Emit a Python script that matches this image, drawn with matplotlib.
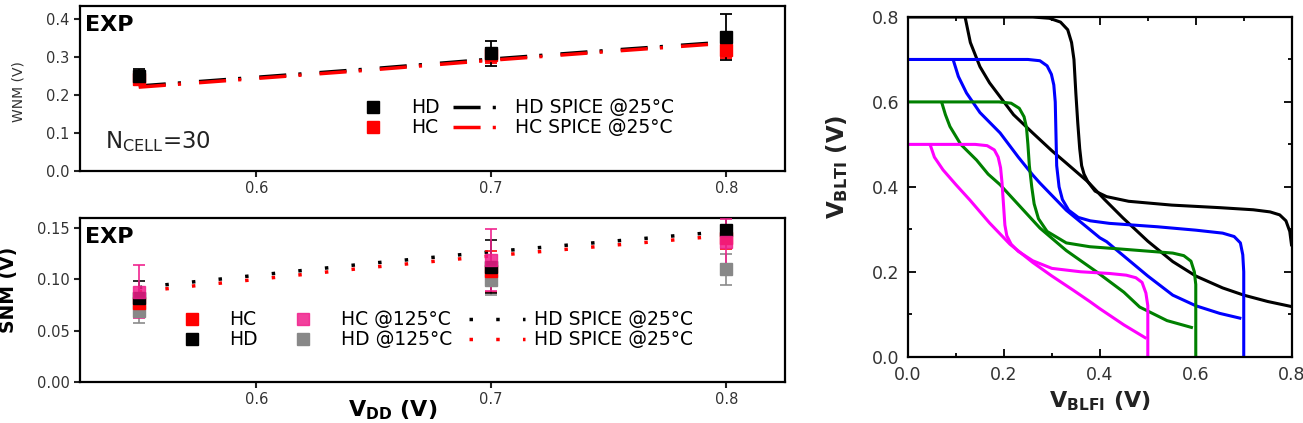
import matplotlib
matplotlib.use("Agg")
import matplotlib.pyplot as plt
from matplotlib.ticker import MultipleLocator

plt.rcParams['font.family'] = ['DejaVu Sans']
plt.rcParams['mathtext.default'] = 'regular'

# ---------------- data ----------------
vdd_exp = [0.55, 0.70, 0.80]
# WNM experiment
wnm_hd = [0.250, 0.310, 0.353]
wnm_hd_err = [0.020, 0.033, 0.060]
wnm_hc = [0.242, 0.305, 0.318]
wnm_hc_err = [0.015, 0.020, 0.020]
# WNM SPICE
vdd_spice_wnm = [0.55, 0.60, 0.65, 0.70, 0.75, 0.80]
wnm_spice_hd = [0.224, 0.247, 0.270, 0.295, 0.318, 0.340]
wnm_spice_hc = [0.221, 0.244, 0.267, 0.292, 0.315, 0.337]

# SNM experiment
snm_hc = [0.077, 0.108, 0.140]
snm_hc_err = [0.010, 0.020, 0.010]
snm_hd = [0.082, 0.1125, 0.148]
snm_hd_err = [0.016, 0.026, 0.012]
snm_hc125 = [0.088, 0.119, 0.137]
snm_hc125_err = [0.026, 0.030, 0.022]
snm_hd125 = [0.069, 0.0995, 0.110]
snm_hd125_err = [0.012, 0.015, 0.015]
# SNM SPICE
vdd_spice_snm = [0.55, 0.60, 0.65, 0.70, 0.75, 0.79]
snm_spice_black = [0.092, 0.104, 0.116, 0.127, 0.137, 0.145]
snm_spice_red = [0.088, 0.100, 0.112, 0.123, 0.133, 0.141]

# Butterfly curves (VBLFI, VBLTI)
bf_08_a_x = [0, 0.26, 0.295, 0.318, 0.333, 0.341, 0.346, 0.35, 0.354, 0.358, 0.362, 0.367, 0.375, 0.39, 0.414, 0.46, 0.55, 0.65, 0.72, 0.755, 0.775, 0.788, 0.796, 0.8]
bf_08_a_y = [0.8, 0.8, 0.797, 0.788, 0.77, 0.74, 0.70, 0.62, 0.55, 0.49, 0.45, 0.43, 0.412, 0.39, 0.377, 0.366, 0.357, 0.351, 0.346, 0.341, 0.334, 0.32, 0.295, 0.26]
bf_08_b_x = [0.119, 0.13, 0.15, 0.17, 0.192, 0.22, 0.26, 0.3, 0.33, 0.375, 0.41, 0.448, 0.5, 0.552, 0.6, 0.656, 0.7, 0.75, 0.8]
bf_08_b_y = [0.8, 0.74, 0.683, 0.645, 0.612, 0.57, 0.527, 0.485, 0.456, 0.412, 0.37, 0.327, 0.272, 0.224, 0.19, 0.162, 0.145, 0.13, 0.118]

bf_07_a_x = [0, 0.25, 0.275, 0.29, 0.299, 0.304, 0.307, 0.31, 0.315, 0.322, 0.335, 0.355, 0.38, 0.42, 0.52, 0.6, 0.656, 0.68, 0.693, 0.698, 0.7, 0.7]
bf_07_a_y = [0.7, 0.7, 0.697, 0.685, 0.665, 0.64, 0.6, 0.45, 0.40, 0.37, 0.345, 0.328, 0.32, 0.314, 0.306, 0.298, 0.291, 0.283, 0.268, 0.24, 0.2, 0.0]
bf_07_b_x = [0.094, 0.105, 0.122, 0.15, 0.192, 0.23, 0.26, 0.275, 0.33, 0.4, 0.414, 0.5, 0.552, 0.6, 0.65, 0.695]
bf_07_b_y = [0.7, 0.66, 0.621, 0.575, 0.527, 0.47, 0.428, 0.409, 0.345, 0.28, 0.271, 0.19, 0.145, 0.12, 0.102, 0.09]

bf_06_a_x = [0, 0.19, 0.215, 0.232, 0.242, 0.247, 0.25, 0.253, 0.258, 0.263, 0.272, 0.29, 0.33, 0.379, 0.45, 0.552, 0.575, 0.59, 0.597, 0.6, 0.6]
bf_06_a_y = [0.6, 0.6, 0.597, 0.585, 0.565, 0.54, 0.5, 0.45, 0.4, 0.36, 0.325, 0.295, 0.268, 0.259, 0.253, 0.244, 0.238, 0.225, 0.2, 0.17, 0.0]
bf_06_b_x = [0.07, 0.078, 0.0875, 0.11, 0.143, 0.167, 0.192, 0.275, 0.33, 0.393, 0.45, 0.483, 0.54, 0.594]
bf_06_b_y = [0.6, 0.57, 0.542, 0.5, 0.463, 0.43, 0.405, 0.303, 0.25, 0.2, 0.152, 0.117, 0.085, 0.068]

bf_05_a_x = [0, 0.14, 0.165, 0.18, 0.188, 0.193, 0.196, 0.199, 0.202, 0.206, 0.215, 0.23, 0.26, 0.3, 0.36, 0.42, 0.455, 0.475, 0.488, 0.496, 0.5, 0.5]
bf_05_a_y = [0.5, 0.5, 0.497, 0.487, 0.47, 0.445, 0.41, 0.36, 0.31, 0.285, 0.265, 0.248, 0.226, 0.208, 0.2, 0.196, 0.192, 0.186, 0.175, 0.15, 0.12, 0.0]
bf_05_b_x = [0.046, 0.055, 0.073, 0.1, 0.129, 0.17, 0.2125, 0.26, 0.3, 0.344, 0.379, 0.4, 0.45, 0.497]
bf_05_b_y = [0.5, 0.47, 0.44, 0.405, 0.369, 0.315, 0.265, 0.222, 0.19, 0.157, 0.13, 0.113, 0.075, 0.043]

butterfly = [
    ('black', bf_08_a_x, bf_08_a_y, bf_08_b_x, bf_08_b_y),
    ('#0000ff', bf_07_a_x, bf_07_a_y, bf_07_b_x, bf_07_b_y),
    ('#008000', bf_06_a_x, bf_06_a_y, bf_06_b_x, bf_06_b_y),
    ('#ff00ff', bf_05_a_x, bf_05_a_y, bf_05_b_x, bf_05_b_y),
]

RED = '#ff0000'
PINK = '#f0208c'
GRAY = '#888888'
dashdot = (0, (7.8, 3.5, 0.9, 5.2))
dotted = (0, (1.0, 6.7))

W, H = 1303, 423
fig = plt.figure(figsize=(W / 100, H / 100), dpi=100)

def ax_px(l, t, r, b):
    return fig.add_axes([l / W, 1 - b / H, (r - l) / W, (b - t) / H])

ax1 = ax_px(80, 6, 785, 171)
ax2 = ax_px(80, 218, 785, 381.7)
ax3 = ax_px(908, 17, 1291.7, 356.7)

for ax in (ax1, ax2):
    for s in ax.spines.values():
        s.set_linewidth(1.6)
    ax.tick_params(direction='out', length=4, width=1.5, labelsize=10.5,
                   colors='#222222', labelcolor='#333333')
    ax.set_xlim(0.525, 0.825)
    ax.set_xticks([0.6, 0.7, 0.8])
    ax.set_xticklabels(['0.6', '0.7', '0.8'])

# ---------------- WNM panel ----------------
ax1.plot(vdd_spice_wnm, wnm_spice_hd, color='black', lw=2.5, ls=dashdot,
         label='HD SPICE @25°C', zorder=2)
ax1.plot(vdd_spice_wnm, wnm_spice_hc, color=RED, lw=2.5, ls=dashdot,
         label='HC SPICE @25°C', zorder=2)
ax1.errorbar(vdd_exp, wnm_hc, yerr=wnm_hc_err, fmt='none', ecolor=RED,
             elinewidth=1.3, capsize=4, capthick=1.3, zorder=3)
ax1.errorbar(vdd_exp, wnm_hd, yerr=wnm_hd_err, fmt='none', ecolor='black',
             elinewidth=1.3, capsize=4, capthick=1.3, zorder=3)
ax1.plot(vdd_exp, wnm_hc, ls='none', marker='s', ms=8, color=RED, label='HC', zorder=4)
ax1.plot(vdd_exp, wnm_hd, ls='none', marker='s', ms=8, color='black', label='HD', zorder=5)
ax1.set_ylim(0, 0.435)
ax1.set_yticks([0.0, 0.1, 0.2, 0.3, 0.4])
ax1.set_yticklabels(['0.0', '0.1', '0.2', '0.3', '0.4'])
ax1.set_ylabel('WNM (V)', fontsize=10, color='#333333')
ax1.yaxis.set_label_coords(-0.078, 0.48)
ax1.text(0.007, 0.945, 'EXP', transform=ax1.transAxes, fontsize=16,
         fontweight='bold', ha='left', va='top')
ax1.text(0.035, 0.14, 'N$_{\\mathregular{CELL}}$=30', transform=ax1.transAxes,
         fontsize=16.5, ha='left', va='baseline', color='#222222')
h, l = ax1.get_legend_handles_labels()
order = [l.index('HD'), l.index('HC'), l.index('HD SPICE @25°C'), l.index('HC SPICE @25°C')]
ax1.legend([h[i] for i in order], [l[i] for i in order], ncol=2, frameon=False,
           loc='upper left', bbox_to_anchor=(0.382, 0.44), borderpad=0,
           borderaxespad=0, fontsize=13.5, handlelength=2.5, handletextpad=0.8,
           columnspacing=0.7, labelspacing=0.05)

# ---------------- SNM panel ----------------
ax2.plot(vdd_spice_snm, snm_spice_black, color='black', lw=2.5, ls=dotted,
         label='HD SPICE @25°C ', zorder=2)
ax2.plot(vdd_spice_snm, snm_spice_red, color=RED, lw=2.5, ls=dotted,
         label='HD SPICE @25°C', zorder=2)
for vals, errs, col in ((snm_hd125, snm_hd125_err, GRAY), (snm_hc, snm_hc_err, RED),
                        (snm_hd, snm_hd_err, 'black'), (snm_hc125, snm_hc125_err, PINK)):
    ax2.errorbar(vdd_exp, vals, yerr=errs, fmt='none', ecolor=col, elinewidth=1.3,
                 capsize=4, capthick=1.3, zorder=3, alpha=0.9)
ax2.plot(vdd_exp, snm_hd125, ls='none', marker='s', ms=8, color=GRAY, label='HD @125°C', zorder=4)
ax2.plot(vdd_exp, snm_hc, ls='none', marker='s', ms=8, color=RED, label='HC', zorder=4)
ax2.plot(vdd_exp, snm_hd, ls='none', marker='s', ms=8, color='black', label='HD', zorder=4)
ax2.plot(vdd_exp, snm_hc125, ls='none', marker='s', ms=8, color=PINK, label='HC @125°C',
         zorder=4, alpha=0.85)
ax2.set_ylim(0, 0.16)
ax2.set_yticks([0.0, 0.05, 0.10, 0.15])
ax2.set_yticklabels(['0.00', '0.05', '0.10', '0.15'])
ax2.set_ylabel('SNM (V)', fontsize=13.5, fontweight='bold')
ax2.yaxis.set_label_coords(-0.088, 0.56)
ax2.set_xlabel('V$_{\\mathbf{DD}}$ (V)', fontsize=16, fontweight='bold')
ax2.xaxis.set_label_coords(0.443, -0.10)
ax2.text(0.007, 0.945, 'EXP', transform=ax2.transAxes, fontsize=16,
         fontweight='bold', ha='left', va='top')
h, l = ax2.get_legend_handles_labels()
order = [l.index('HC'), l.index('HD'), l.index('HC @125°C'), l.index('HD @125°C'),
         l.index('HD SPICE @25°C '), l.index('HD SPICE @25°C')]
ax2.legend([h[i] for i in order], [l[i].strip() for i in order], ncol=3, frameon=False,
           loc='upper left', bbox_to_anchor=(0.119, 0.435), borderpad=0,
           borderaxespad=0, fontsize=13.5, handlelength=3.0, handletextpad=0.5,
           columnspacing=0.9, labelspacing=0.05)

# ---------------- Butterfly panel ----------------
for col, ax_x, ax_y, bx, by in butterfly:
    ax3.plot(ax_x, ax_y, color=col, lw=2.2, solid_joinstyle='round', solid_capstyle='butt')
    ax3.plot(bx, by, color=col, lw=2.2, solid_joinstyle='round', solid_capstyle='butt')
ax3.set_xlim(0, 0.8)
ax3.set_ylim(0, 0.8)
for s in ax3.spines.values():
    s.set_linewidth(1.6)
ax3.xaxis.set_major_locator(MultipleLocator(0.2))
ax3.yaxis.set_major_locator(MultipleLocator(0.2))
ax3.xaxis.set_minor_locator(MultipleLocator(0.1))
ax3.yaxis.set_minor_locator(MultipleLocator(0.1))
ax3.tick_params(which='both', direction='in', top=True, right=True, width=1.3,
                labelsize=12.5, labelcolor='#333333')
ax3.tick_params(which='major', length=6)
ax3.tick_params(which='minor', length=3)
ax3.tick_params(axis='x', which='major', pad=7)
ax3.tick_params(axis='y', which='major', pad=6)
ax3.set_xticks([0.0, 0.2, 0.4, 0.6, 0.8])
ax3.set_xticklabels(['0.0', '0.2', '0.4', '0.6', '0.8'])
ax3.set_yticks([0.0, 0.2, 0.4, 0.6, 0.8])
ax3.set_yticklabels(['0.0', '0.2', '0.4', '0.6', '0.8'])
ax3.set_xlabel('V$_{\\mathbf{BLFI}}$ (V)', fontsize=16, fontweight='bold', color='#222222')
ax3.xaxis.set_label_coords(0.5, -0.095)
ax3.set_ylabel('V$_{\\mathbf{BLTI}}$ (V)', fontsize=16.5, fontweight='bold', color='#222222')
ax3.yaxis.set_label_coords(-0.15, 0.56)

fig.savefig('out.png', dpi=100)
